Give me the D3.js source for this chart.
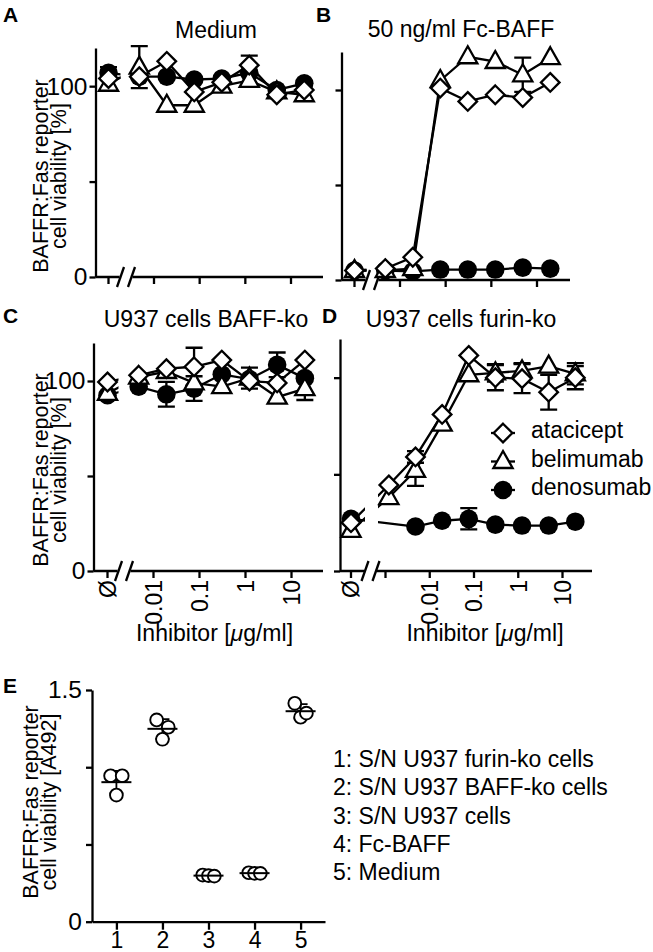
<!DOCTYPE html>
<html>
<head>
<meta charset="utf-8">
<script src="https://cdn.jsdelivr.net/npm/d3@7"></script>
<style>
  body { margin: 0; background: #fff; }
  svg { display: block; font-family: 'Liberation Sans', Arial, Helvetica, sans-serif; }
</style>
</head>
<body>
<svg id="chart" width="653" height="952"></svg>
<script>
// inhibitor concentrations in ug/ml (4-fold dilutions from 20)
const concABC = [0.0048828, 0.0195313, 0.078125, 0.3125, 1.25, 5, 20];
const concD = [0.0012207, 0.0048828, 0.0195313, 0.078125, 0.3125, 1.25, 5, 20];
const decadesABC = [0.01, 0.1, 1, 10];
const decadesD = [0.001, 0.01, 0.1, 1, 10];
const decadeLabelsABC = ['0.01', '0.1', '1', '10'];
const decadeLabelsD = ['', '0.01', '0.1', '1', '10'];
const yTicks = [0, 50, 100];
const yTickLabels = ['0', '', '100'];
const seriesNames = ['atacicept', 'belimumab', 'denosumab'];

// first value of every list = no inhibitor (Ø)
const mediumAtacicept = [104, 105, 113, 97, 102, 111, 95.5, 98];
const mediumAtaciceptErr = [0, 0, 0, 0, 0, 5, 0, 0];
const mediumBelimumab = [101, 110, 90, 90, 100, 103, 97, 95.5];
const mediumBelimumabErr = [0, 11, 0, 0, 0, 0, 0, 0];
const mediumDenosumab = [107, 105, 105, 103.5, 104, 107, 98, 101.5];
const mediumDenosumabErr = [3, 0, 0, 0, 0, 0, 0, 0];

const baffAtacicept = [5, 6, 12, 101, 94, 97.5, 96, 104];
const baffAtaciceptErr = [0, 0, 0, 0, 0, 0, 0, 0];
const baffBelimumab = [5, 5, 6, 105, 117.5, 115, 108, 117];
const baffBelimumabErr = [0, 0, 0, 0, 0, 0, 9, 0];
const baffDenosumab = [5, 5, 4.5, 5.5, 5.5, 5.5, 6.5, 6];
const baffDenosumabErr = [0, 0, 0, 0, 0, 0, 0, 0];

const baffkoAtacicept = [99.5, 103, 106.5, 107.5, 111, 100, 99, 111];
const baffkoAtaciceptErr = [0, 0, 0, 10, 0, 0, 0, 0];
const baffkoBelimumab = [93.5, 102, 105, 99, 97, 101.5, 91.5, 96];
const baffkoBelimumabErr = [0, 0, 0, 0, 0, 5.5, 0, 6];
const baffkoDenosumab = [92.5, 97, 93, 96, 103.5, 101, 108.5, 101.5];
const baffkoDenosumabErr = [0, 0, 6.5, 6.5, 0, 0, 6.5, 0];

const furinAtacicept = [25, 44.5, 59, 81, 111.5, 100, 99.5, 92.5, 100];
const furinAtaciceptErr = [0, 0, 3, 0, 0, 6.5, 7.5, 9, 6];
const furinBelimumab = [21, 38, 52, 76, 101.5, 102.5, 103.5, 106, 102];
const furinBelimumabErr = [0, 0, 8, 0, 0, 4.5, 4, 0, 5.5];
const furinDenosumab = [27, null, 23, 26, 27, 24, 23.5, 23.5, 25.5];
const furinDenosumabErr = [0, 0, 0, 0, 5.5, 0, 0, 0, 0];

// panel E
const eGroups = ['1', '2', '3', '4', '5'];
const eValues = [
  [0.945, 0.945, 0.82],
  [1.306, 1.259, 1.181],
  [0.298, 0.302, 0.295],
  [0.317, 0.313, 0.313],
  [1.414, 1.35, 1.324],
];
const eYTicks = [0, 0.5, 1, 1.5];
const eYTickLabels = ['0', '', '', '1.5'];
const eLegend = ['1: S/N U937 furin-ko cells', '2: S/N U937 BAFF-ko cells', '3: S/N U937 cells', '4: Fc-BAFF', '5: Medium'];

const svg = d3.select('#chart');
const FS = 23;
const SW = 2.3;

// layout of the four dose-response panels
const panels = [
  { key: 'A', title: 'Medium', titleX: 216, titleY: 38, letterX: 3, letterY: 22,
    axisX: 95.5, y0: 277, yTop: 48, xEnd: 323, none: 13, first: 58, last: 195,
    conc: concABC, decades: decadesABC, labels: decadeLabelsABC, yLabels: true, xLabels: false, yTitleY: 176,
    data: { atacicept: [mediumAtacicept, mediumAtaciceptErr], belimumab: [mediumBelimumab, mediumBelimumabErr], denosumab: [mediumDenosumab, mediumDenosumabErr] } },
  { key: 'B', title: '50 ng/ml Fc-BAFF', titleX: 461, titleY: 37, letterX: 316, letterY: 22,
    axisX: 341.5, y0: 280, yTop: 52, xEnd: 570, none: 13, first: 58, last: 195,
    conc: concABC, decades: decadesABC, labels: decadeLabelsABC, yLabels: false, xLabels: false,
    data: { atacicept: [baffAtacicept, baffAtaciceptErr], belimumab: [baffBelimumab, baffBelimumabErr], denosumab: [baffDenosumab, baffDenosumabErr] } },
  { key: 'C', title: 'U937 cells BAFF-ko', titleX: 206, titleY: 327, letterX: 3, letterY: 323,
    axisX: 93.5, y0: 571, yTop: 343, xEnd: 323, none: 14, first: 59.5, last: 197.5,
    conc: concABC, decades: decadesABC, labels: decadeLabelsABC, yLabels: true, xLabels: true, yTitleY: 470,
    data: { atacicept: [baffkoAtacicept, baffkoAtaciceptErr], belimumab: [baffkoBelimumab, baffkoBelimumabErr], denosumab: [baffkoDenosumab, baffkoDenosumabErr] } },
  { key: 'D', title: 'U937 cells furin-ko', titleX: 461, titleY: 327, letterX: 322, letterY: 323,
    axisX: 340, y0: 571, yTop: 339, xEnd: 592, none: 11, first: 45, last: 222,
    conc: concD, decades: decadesD, labels: decadeLabelsD, yLabels: false, xLabels: true, legend: true,
    data: { atacicept: [furinAtacicept, furinAtaciceptErr], belimumab: [furinBelimumab, furinBelimumabErr], denosumab: [furinDenosumab, furinDenosumabErr] } },
];

function styleAxis(sel, size) {
  sel.selectAll('path, line').attr('stroke', '#000').attr('stroke-width', SW);
  sel.selectAll('text').attr('fill', '#000').style('font-size', (size || FS) + 'px');
  sel.attr('font-family', null);
}

function drawMarker(g, name, cx, cy) {
  if (name === 'denosumab') {
    g.append('circle').attr('cx', cx).attr('cy', cy).attr('r', 9.3).attr('fill', '#000');
    return;
  }
  const d = name === 'atacicept' ? 'M0,-9.3L9.3,0L0,9.3L-9.3,0Z' : 'M0,-10.5L9.6,6.5L-9.6,6.5Z';
  g.append('path').attr('d', d).attr('transform', `translate(${cx},${cy})`)
    .attr('fill', '#fff').attr('stroke', '#000').attr('stroke-width', SW).attr('stroke-linejoin', 'miter');
}

function yTitle(lines, x1, x2, cy) {
  [[lines[0], x1], [lines[1], x2]].forEach(([t, bx]) => {
    svg.append('text')
      .attr('transform', `translate(${bx},${cy}) rotate(-90)`)
      .attr('text-anchor', 'middle')
      .style('font-size', '21.5px')
      .text(t);
  });
}

function drawDosePanel(p) {
  const g = svg.append('g');
  const y = d3.scaleLinear().domain([0, 120]).range([p.y0, p.yTop]);
  const x = d3.scaleLog().domain([p.decades[0], 10]).range([p.axisX + p.first, p.axisX + p.last]);
  const noneX = p.axisX + p.none;
  const xAt = i => i === 0 ? noneX : x(p.conc[i - 1]);
  const b1 = p.axisX + 25;
  const b2 = p.axisX + 36;

  // titles
  g.append('text').attr('x', p.letterX).attr('y', p.letterY).style('font-size', '21px').style('font-weight', 'bold').text(p.key);
  g.append('text').attr('x', p.titleX).attr('y', p.titleY).attr('text-anchor', 'middle').style('font-size', FS + 'px').text(p.title);

  // y axis
  g.append('g')
    .attr('transform', `translate(${p.axisX},0)`)
    .call(d3.axisLeft(y).tickValues(yTicks).tickSize(6).tickSizeOuter(0).tickPadding(2)
      .tickFormat((d, i) => p.yLabels ? yTickLabels[i] : ''))
    .call(styleAxis, 24.5);

  // x axis: decade ticks, Ø tick, broken base line
  const xAxis = g.append('g')
    .attr('transform', `translate(0,${p.y0})`)
    .call(d3.axisBottom(x).tickValues(p.decades).tickSize(7).tickSizeOuter(0)
      .tickFormat((d, i) => p.xLabels ? p.labels[i] : ''))
    .call(styleAxis);
  xAxis.select('.domain').remove();
  xAxis.selectAll('text')
    .attr('transform', 'rotate(-90)')
    .attr('x', -9).attr('y', 0).attr('dy', '0.36em')
    .attr('text-anchor', 'end');

  g.append('line').attr('x1', noneX).attr('x2', noneX).attr('y1', p.y0).attr('y2', p.y0 + 7)
    .attr('stroke', '#000').attr('stroke-width', SW);
  if (p.xLabels) {
    g.append('text')
      .attr('transform', `translate(${noneX},${p.y0 + 9}) rotate(-90)`)
      .attr('dy', '0.36em').attr('text-anchor', 'end').style('font-size', FS + 'px')
      .text('Ø');
    g.append('text').attr('x', p.axisX + (p.key === 'C' ? 121 : 145)).attr('y', 641)
      .attr('text-anchor', 'middle').style('font-size', FS + 'px')
      .call(t => {
        t.append('tspan').text('Inhibitor [');
        t.append('tspan').style('font-style', 'italic').text('μ');
        t.append('tspan').text('g/ml]');
      });
  }
  g.append('path').attr('d', `M${p.axisX},${p.y0}H${b1 - 1}M${b2 + 1},${p.y0}H${p.xEnd}`)
    .attr('stroke', '#000').attr('stroke-width', SW).attr('fill', 'none');
  [b1, b2].forEach(bx => {
    g.append('line').attr('x1', bx - 3.5).attr('y1', p.y0 + 10).attr('x2', bx + 3.5).attr('y2', p.y0 - 10)
      .attr('stroke', '#000').attr('stroke-width', SW);
  });

  // lines are hidden inside the axis break
  const clipId = 'gap' + p.key;
  const clip = svg.append('clipPath').attr('id', clipId);
  clip.append('rect').attr('x', 0).attr('y', 0).attr('width', b1).attr('height', 952);
  clip.append('rect').attr('x', b2 + 2).attr('y', 0).attr('width', 653).attr('height', 952);

  const order = ['denosumab', 'belimumab', 'atacicept'];
  const pts = {};
  order.forEach(name => {
    const [vals, errs] = p.data[name];
    pts[name] = vals.map((v, i) => ({ x: xAt(i), v: v, e: errs[i] })).filter(d => d.v != null);
  });

  const line = d3.line().x(d => d.x).y(d => y(d.v));
  order.forEach(name => {
    g.append('path').attr('d', line(pts[name])).attr('clip-path', `url(#${clipId})`)
      .attr('fill', 'none').attr('stroke', '#000').attr('stroke-width', SW);
  });

  order.forEach(name => {
    pts[name].filter(d => d.e > 0).forEach(d => {
      const top = y(d.v + d.e);
      const bot = y(d.v - d.e);
      g.append('path')
        .attr('d', `M${d.x},${top}V${bot}M${d.x - 8.5},${top}H${d.x + 8.5}M${d.x - 8.5},${bot}H${d.x + 8.5}`)
        .attr('stroke', '#000').attr('stroke-width', SW).attr('fill', 'none');
    });
  });

  order.forEach(name => {
    pts[name].forEach(d => drawMarker(g, name, d.x, y(d.v)));
  });

  if (p.yLabels) yTitle(['BAFFR:Fas reporter', 'cell viability [%]'], 48, 66, p.yTitleY);

  if (p.legend) {
    seriesNames.forEach((name, i) => {
      const base = 438 + i * 28.5;
      g.append('line').attr('x1', 491).attr('x2', 515).attr('y1', base - 5).attr('y2', base - 5)
        .attr('stroke', '#000').attr('stroke-width', SW);
      drawMarker(g, name, 503, base - 5);
      g.append('text').attr('x', 531).attr('y', base).style('font-size', FS + 'px').text(name);
    });
  }
}

panels.forEach(drawDosePanel);

// spread replicates sideways when they sit at nearly the same height
function spreadGroup(ys) {
  const idx = ys.map((v, i) => i).sort((a, b) => ys[a] - ys[b]);
  const offsets = new Array(ys.length).fill(0);
  let bin = [];
  const flush = () => {
    bin.forEach((k, j) => {
      offsets[k] = bin.length > 1 ? -5.8 + j * 11.6 / (bin.length - 1) : 0;
    });
    bin = [];
  };
  idx.forEach(k => {
    if (bin.length && ys[k] - ys[bin[0]] > 10.5) flush();
    bin.push(k);
  });
  flush();
  return offsets;
}

function drawPanelE() {
  const g = svg.append('g');
  const axisX = 92;
  const y = d3.scaleLinear().domain([0, 1.5]).range([921.7, 690]);
  const x = d3.scalePoint().domain(eGroups).range([axisX, 325]).padding(0.53);

  g.append('text').attr('x', 3).attr('y', 693).style('font-size', '21px').style('font-weight', 'bold').text('E');

  g.append('g')
    .attr('transform', `translate(${axisX},0)`)
    .call(d3.axisLeft(y).tickValues(eYTicks).tickSize(6).tickSizeOuter(0).tickPadding(4)
      .tickFormat((d, i) => eYTickLabels[i]))
    .call(styleAxis, 24.5);

  g.append('g')
    .attr('transform', `translate(0,${y(0)})`)
    .call(d3.axisBottom(x).tickSize(8).tickSizeOuter(0).tickPadding(1.5))
    .call(styleAxis, 23);

  eGroups.forEach((grp, gi) => {
    const vals = eValues[gi];
    const cx = x(grp);
    const mean = d3.mean(vals);
    const sd = d3.deviation(vals);
    const offs = spreadGroup(vals.map(v => y(v)));
    const dots = vals.map((v, i) => ({ x: cx + offs[i], y: y(v) })).sort((a, b) => a.x - b.x);
    // sd bars behind the dots
    g.append('path')
      .attr('d', `M${cx},${y(mean + sd)}V${y(mean - sd)}M${cx - 7},${y(mean + sd)}H${cx + 7}M${cx - 7},${y(mean - sd)}H${cx + 7}`)
      .attr('stroke', '#000').attr('stroke-width', 1.8).attr('fill', 'none');
    dots.forEach(d => {
      g.append('circle').attr('cx', d.x).attr('cy', d.y).attr('r', 6.4)
        .attr('fill', '#fff').attr('stroke', '#000').attr('stroke-width', 1.9);
    });
    g.append('line').attr('x1', cx - 15).attr('x2', cx + 15).attr('y1', y(mean)).attr('y2', y(mean))
      .attr('stroke', '#000').attr('stroke-width', 2);
  });

  yTitle(['BAFFR:Fas reporter', 'cell viability [A492]'], 38, 56, 802);

  eLegend.forEach((t, i) => {
    g.append('text').attr('x', 333).attr('y', 767 + i * 28.3).style('font-size', FS + 'px').text(t);
  });
}

drawPanelE();
</script>
</body>
</html>
